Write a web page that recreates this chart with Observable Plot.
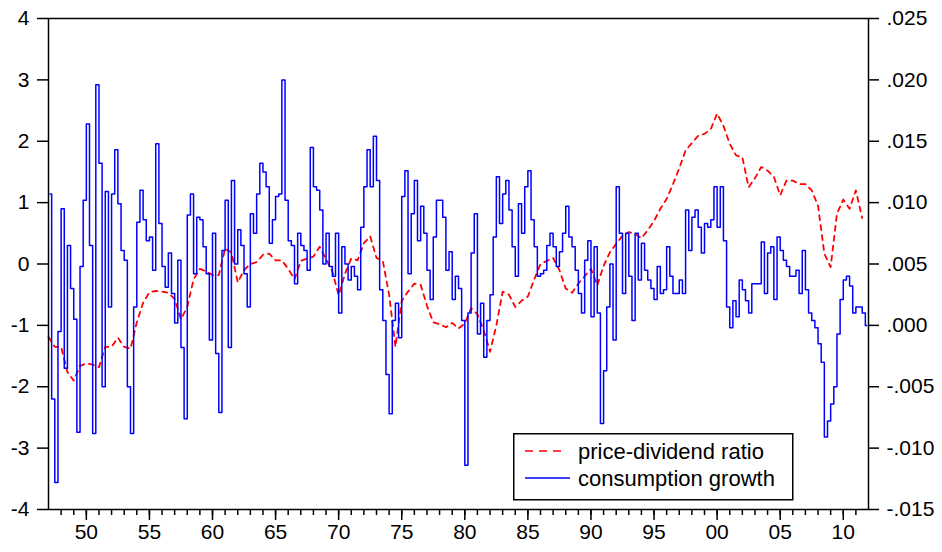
<!DOCTYPE html>
<html>
<head>
<meta charset="utf-8">
<script src="https://cdn.jsdelivr.net/npm/d3@7"></script>
<script src="https://cdn.jsdelivr.net/npm/@observablehq/plot@0.6"></script>
<style>
  html, body { margin: 0; padding: 0; background: #fff; }
  #wrap { position: relative; width: 942px; height: 552px; font-family: "Liberation Sans", Arial, sans-serif; }
  #legend { position: absolute; left: 513px; top: 433px; }
</style>
</head>
<body>
<div id="wrap"></div>
<script>
// ---------------- data ----------------
const startYear = 1947;                 // first quarter of both series
const endYear = 2012;
const seriesNames = ["price-dividend ratio", "consumption growth"];
const seriesColors = ["#ff0000", "#0000ff"];

// consumption growth, quarterly 1947Q1 .. 2011Q4 (right axis units)
const consumptionGrowth = [
  .0107, -.0060, -.0128, -.0005,   // 1947
  .0095, -.0035, .0065, .0030,     // 1948
  .0005, -.0087, .0048, .0102,     // 1949
  .0164, .0065, -.0088, .0196,     // 1950
  .0132, -.0050, .0109, .0015,     // 1951
  .0107, .0143, .0099, .0061,      // 1952
  .0053, -.0050, -.0088, .0015,    // 1953
  .0084, .0110, .0086, .0069,      // 1954
  .0072, .0045, .0148, .0083,      // 1955
  .0048, .0031, .0059, .0026,      // 1956
  .0002, .0053, -.0018, -.0076,    // 1957
  .0090, .0107, .0042, .0088,      // 1958
  .0086, .0064, .0042, -.0012,     // 1959
  .0075, -.0023, -.0071, .0061,    // 1960
  .0102, -.0018, .0118, .0050,     // 1961
  .0078, .0065, .0042, .0015,      // 1962
  .0091, .0075, .0107, .0132,      // 1963
  .0125, .0113, .0067, .0086,      // 1964
  .0105, .0107, .0200, .0102,      // 1965
  .0069, .0065, .0034, .0075,      // 1966
  .0065, .0061, .0045, .0145,      // 1967
  .0113, .0110, .0094, .0050,      // 1968
  .0075, .0048, .0040, .0075,      // 1969
  .0010, .0064, .0050, .0037,      // 1970
  .0048, .0040, .0029, .0080,      // 1971
  .0113, .0143, .0113, .0154,      // 1972
  .0118, .0029, .0004, -.0040,     // 1973
  -.0072, .0004, .0018, -.0010,    // 1974
  .0105, .0126, .0042, .0091,      // 1975
  .0118, .0069, .0097, .0075,      // 1976
  .0045, .0021, .0072, .0102,      // 1977
  .0102, .0088, .0045, .0060,      // 1978
  .0021, .0040, .0030, .0004,      // 1979
  -.0114, .0010, .0059, .0091,     // 1980
  -.0007, .0018, -.0026, .0004,    // 1981
  .0025, .0072, .0121, .0083,      // 1982
  .0107, .0118, .0094, .0064,      // 1983
  .0040, .0099, .0075, .0113,      // 1984
  .0126, .0086, .0064, .0040,      // 1985
  .0042, .0045, .0065, .0075,      // 1986
  .0064, .0048, .0060, .0075,      // 1987
  .0097, .0072, .0064, .0045,      // 1988
  .0026, .0010, .0053, .0069,      // 1989
  .0007, .0064, .0010, -.0080,     // 1990
  -.0037, .0015, .0050, -.0012,    // 1991
  .0113, .0075, .0026, .0075,      // 1992
  .0040, .0004, .0075, .0037,      // 1993
  .0067, .0045, .0037, .0030,      // 1994
  .0021, .0048, .0026, .0029,      // 1995
  .0064, .0040, .0026, .0026,      // 1996
  .0037, .0026, .0094, .0061,      // 1997
  .0088, .0094, .0080, .0059,      // 1998
  .0083, .0080, .0086, .0113,      // 1999
  .0080, .0113, .0069, .0015,      // 2000
  -.0002, .0020, .0007, .0037,     // 2001
  .0029, .0020, .0010, .0034,      // 2002
  .0034, .0034, .0068, .0026,      // 2003
  .0059, .0064, .0021, .0072,      // 2004
  .0061, .0053, .0048, .0040,      // 2005
  .0040, .0045, .0026, .0061,      // 2006
  .0029, .0010, .0004, -.0002,     // 2007
  -.0015, -.0030, -.0091, -.0078,  // 2008
  -.0064, -.0050, -.0007, .0021,   // 2009
  .0037, .0040, .0032, .0010,      // 2010
  .0015, .0015, .0010, .0000       // 2011
];

// price-dividend ratio (standardised, left axis), half-yearly readings 1947 .. 2011
const priceDividend = [
  -1.19, -1.35,  -1.35, -1.76,  -1.90, -1.66,  -1.62, -1.64,  -1.68, -1.35,   // 1947-51
  -1.35, -1.20,  -1.35, -1.38,  -0.95, -0.63,  -0.46, -0.44,  -0.45, -0.47,   // 1952-56
  -0.57, -0.90,  -0.70, -0.25,  -0.08, -0.12,  -0.18, -0.18,   0.25,  0.19,   // 1957-61
  -0.30, -0.10,   0.00,  0.03,   0.15,  0.17,   0.06,  0.06,  -0.08, -0.25,   // 1962-66
   0.05,  0.09,   0.12,  0.28,   0.08, -0.12,  -0.51, -0.16,   0.09,  0.06,   // 1967-71
   0.34,  0.45,   0.10,  0.05,  -0.50, -1.35,  -0.60, -0.45,  -0.32, -0.34,   // 1972-76
  -0.68, -0.95,  -0.98, -1.03,  -0.96, -1.05,  -0.97, -0.72,  -0.82, -1.08,   // 1977-81
  -1.43, -1.00,  -0.45, -0.50,  -0.70, -0.60,  -0.53, -0.25,   0.00,  0.05,   // 1982-86
   0.10, -0.10,  -0.40, -0.47,  -0.32, -0.20,  -0.08, -0.35,  -0.03,  0.19,   // 1987-91
   0.33,  0.46,   0.52,  0.49,   0.42,  0.55,   0.70,  0.90,   1.06,  1.30,   // 1992-96
   1.56,  1.85,   1.97,  2.09,   2.12,  2.20,   2.45,  2.25,   1.96,  1.77,   // 1997-2001
   1.74,  1.25,   1.40,  1.58,   1.52,  1.42,   1.12,  1.36,   1.36,  1.30,   // 2002-06
   1.30,  1.20,   0.95,  0.17,  -0.05,  0.82,   1.05,  0.90,   1.20,  0.75    // 2007-11
];

const leftTicks = [-4, -3, -2, -1, 0, 1, 2, 3, 4];
const rightTicks = [-0.015, -0.010, -0.005, 0.000, 0.005, 0.010, 0.015, 0.020, 0.025];
const yearLabels = [1950, 1955, 1960, 1965, 1970, 1975, 1980, 1985, 1990, 1995, 2000, 2005, 2010];
const minorYears = d3.range(1948, 2012);

// right axis (consumption growth) <-> left axis link: .025 at 4, -.015 at -4
const rightDomain = [-0.015, 0.025];
const leftDomain = [-4, 4];
const toLeft = r => +(leftDomain[0] + (r - rightDomain[0]) / (rightDomain[1] - rightDomain[0]) * (leftDomain[1] - leftDomain[0])).toFixed(6);
const toRight = l => rightDomain[0] + (l - leftDomain[0]) / (leftDomain[1] - leftDomain[0]) * (rightDomain[1] - rightDomain[0]);
const fmtRight = l => {
  const r = toRight(l);
  const s = Math.abs(r).toFixed(3).replace(/^0/, "");
  return (r < -1e-9 ? "-" : "") + s;
};

const cgData = consumptionGrowth.map((v, i) => ({x: startYear + i / 4 + 0.125, y: toLeft(v)}));
const pdData = priceDividend.map((v, i) => ({x: startYear + i / 2, y: v}));

// ---------------- chart ----------------
const chart = Plot.plot({
  width: 942,
  height: 552,
  marginLeft: 48,
  marginRight: 74,
  marginTop: 18,
  marginBottom: 43,
  style: {fontFamily: "'Liberation Sans', Arial, sans-serif", fontSize: "21px", color: "#000", background: "#fff", overflow: "visible"},
  x: {domain: [startYear, endYear], label: null},
  y: {domain: leftDomain, label: null},
  marks: [
    Plot.line(pdData, {x: "x", y: "y", stroke: seriesColors[0], strokeWidth: 1.8, strokeDasharray: "5,5"}),
    Plot.line(cgData, {x: "x", y: "y", stroke: seriesColors[1], strokeWidth: 1.5, curve: "step"}),
    Plot.frame({stroke: "#000", strokeWidth: 1.5}),
    Plot.axisY(leftTicks, {anchor: "left", tickSize: 11, tickPadding: 8, tickFormat: d => String(d), label: null, strokeWidth: 1.5}),
    Plot.axisY(rightTicks.map(toLeft), {anchor: "right", tickSize: 10, tickPadding: 8, tickFormat: fmtRight, label: null, strokeWidth: 1.5}),
    Plot.axisX(minorYears, {anchor: "bottom", tickSize: 6, tickFormat: () => "", label: null, strokeWidth: 1.5}),
    Plot.axisX(yearLabels, {anchor: "bottom", tickSize: 11, tickPadding: 4, tickFormat: d => String(d % 100).padStart(2, "0"), label: null, strokeWidth: 1.5})
  ]
});
document.getElementById("wrap").appendChild(chart);

// ---------------- legend (inside the plot, bottom right) ----------------
const lg = d3.select("#wrap").append("svg")
  .attr("id", "legend")
  .attr("width", 281).attr("height", 68);
lg.append("rect").attr("x", 0.75).attr("y", 0.75).attr("width", 279).attr("height", 66)
  .attr("fill", "#fff").attr("stroke", "#000").attr("stroke-width", 1.5);
const rows = lg.selectAll("g.row").data(seriesNames).join("g")
  .attr("transform", (d, i) => `translate(0,${18 + i * 27})`);
rows.append("line")
  .attr("x1", 12).attr("x2", (d, i) => i === 0 ? 50 : 57)
  .attr("y1", 0).attr("y2", 0)
  .attr("stroke", (d, i) => seriesColors[i])
  .attr("stroke-width", 1.6)
  .attr("stroke-dasharray", (d, i) => i === 0 ? "8,6" : null);
rows.append("text")
  .attr("x", 65).attr("y", 0).attr("dy", "0.35em")
  .attr("font-family", "'Liberation Sans', Arial, sans-serif")
  .attr("font-size", 22)
  .attr("fill", "#000")
  .text(d => d);
</script>
</body>
</html>
